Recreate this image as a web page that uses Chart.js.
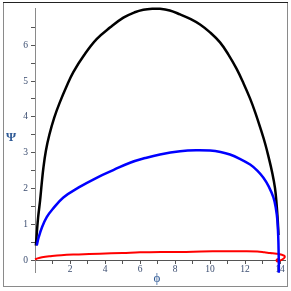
<!DOCTYPE html>
<html lang="en">
<head>
    <meta charset="UTF-8">
    <title>Psi vs Phi</title>
    <style>
        html, body { margin: 0; padding: 0; background: #fff; }
        #box { width: 291px; height: 291px; }
    </style>
</head>
<body>
    <div id="box">
        <canvas id="myChart" width="291" height="291"></canvas>
    </div>

    <script src="https://cdn.jsdelivr.net/npm/chart.js"></script>

    <script>
        // curve data
        const blackX = [0.05, 0.1, 0.18, 0.29, 0.38, 0.48, 0.62, 0.82, 1.1, 1.43, 1.8, 2.19, 2.8, 3.52, 4.3, 5.05, 5.7, 6.19, 6.7, 7.14, 7.7, 8.29, 8.9, 9.43, 10.0, 10.57, 11.05, 11.52, 11.9, 12.29, 12.6, 12.9, 13.15, 13.35, 13.55, 13.71, 13.8, 13.87, 13.91];
        const blackY = [0.41, 0.74, 1.2, 1.66, 2.12, 2.58, 3.05, 3.5, 3.98, 4.42, 4.85, 5.25, 5.72, 6.17, 6.5, 6.77, 6.92, 6.99, 7.02, 7.02, 6.97, 6.86, 6.73, 6.58, 6.36, 6.08, 5.74, 5.34, 4.95, 4.51, 4.1, 3.65, 3.25, 2.87, 2.45, 2.02, 1.58, 1.1, 0.7];

        const blueX = [0.1, 0.2, 0.4, 0.67, 1.0, 1.62, 2.5, 3.52, 4.5, 5.43, 6.3, 7.14, 8.29, 9.2, 10.0, 10.6, 11.14, 11.7, 12.29, 12.7, 13.05, 13.35, 13.62, 13.76, 13.85, 13.9, 13.92, 13.93, 13.93];
        const blueY = [0.41, 0.62, 0.92, 1.2, 1.42, 1.75, 2.03, 2.3, 2.52, 2.72, 2.85, 2.95, 3.04, 3.07, 3.06, 3.02, 2.95, 2.83, 2.67, 2.5, 2.3, 2.06, 1.75, 1.45, 1.1, 0.6, 0.18, -0.1, -0.35];

        const redX = [0.0, 0.15, 0.4, 0.86, 1.5, 2.5, 3.7, 5.0, 6.0, 7.2, 8.29, 9.5, 10.8, 12.1, 12.7, 13.1, 13.43, 13.8, 14.1, 14.27, 14.22, 14.05, 13.85, 13.8, 13.9];
        const redY = [0.02, 0.05, 0.08, 0.11, 0.14, 0.16, 0.18, 0.2, 0.22, 0.23, 0.23, 0.24, 0.25, 0.25, 0.24, 0.22, 0.2, 0.18, 0.15, 0.11, 0.05, 0.0, -0.04, 0.0, 0.04];

        // tick positions and which ones carry a label
        const xTicks = [0, 1, 2, 3, 4, 5, 6, 7, 8, 9, 10, 11, 12, 13, 14];
        const xTickLabels = [2, 4, 6, 8, 10, 12, 14];
        const yTicks = [0, 0.5, 1, 1.5, 2, 2.5, 3, 3.5, 4, 4.5, 5, 5.5, 6, 6.5];
        const yTickLabels = [0, 1, 2, 3, 4, 5, 6];
        const xTitle = 'ϕ';
        const yTitle = 'Ψ';

        function toPoints(xs, ys) {
            return xs.map((x, i) => ({ x: x, y: ys[i] }));
        }

        const labelColor = '#3b4d70';
        const serif = "'Liberation Serif', 'DejaVu Serif', serif";

        // frame + axis titles
        const extras = {
            id: 'extras',
            afterDraw(chart) {
                const c = chart.ctx;
                c.save();
                c.lineWidth = 1;
                c.strokeStyle = '#8a8a8a';
                c.strokeRect(3.5, 2.5, 284, 284);
                c.strokeStyle = '#222';
                c.beginPath();
                c.moveTo(3, 2.5);
                c.lineTo(288, 2.5);
                c.stroke();

                c.fillStyle = '#2f5a96';
                c.font = "bold 13px " + serif;
                c.textAlign = 'center';
                c.textBaseline = 'middle';
                c.fillText(yTitle, 11, 138);
                c.font = "13px " + serif;
                c.fillText(xTitle, 157, 279);
                c.restore();
            }
        };

        const ctx = document.getElementById('myChart');

        const lineOpts = { showLine: true, pointRadius: 0, tension: 0.4, clip: false };

        new Chart(ctx, {
            type: 'scatter',
            data: {
                datasets: [
                    Object.assign({ label: 'blue', data: toPoints(blueX, blueY), borderColor: '#0000ff', borderWidth: 2.5 }, lineOpts),
                    Object.assign({ label: 'black', data: toPoints(blackX, blackY), borderColor: '#000000', borderWidth: 2.5 }, lineOpts),
                    Object.assign({ label: 'red', data: toPoints(redX, redY), borderColor: '#ff0000', borderWidth: 2 }, lineOpts)
                ]
            },
            options: {
                responsive: false,
                animation: false,
                layout: {
                    padding: { left: 0, top: 6, right: 5.7, bottom: 18.3 }
                },
                plugins: {
                    legend: { display: false },
                    tooltip: { enabled: false }
                },
                scales: {
                    x: {
                        type: 'linear',
                        position: { y: 0 },
                        min: 0,
                        max: 14.3,
                        grid: { drawOnChartArea: false, tickLength: 3, color: '#555' },
                        border: { color: '#555', width: 1 },
                        ticks: {
                            autoSkip: false,
                            maxRotation: 0,
                            padding: 1,
                            color: labelColor,
                            font: { family: serif, size: 9.5 },
                            callback: (v) => xTickLabels.includes(v) ? String(v) : ''
                        },
                        afterBuildTicks: (s) => {
                            s.ticks = xTicks.map(v => ({ value: v }));
                        }
                    },
                    y: {
                        type: 'linear',
                        min: -0.35,
                        max: 7.02,
                        grid: { drawOnChartArea: false, tickLength: 4, color: '#555' },
                        border: { color: '#8a8a8a', width: 1 },
                        ticks: {
                            autoSkip: false,
                            padding: 3,
                            color: labelColor,
                            font: { family: serif, size: 9.5 },
                            callback: (v) => yTickLabels.includes(v) ? String(v) : ''
                        },
                        afterBuildTicks: (s) => {
                            s.ticks = yTicks.map(v => ({ value: v }));
                        },
                        afterFit: (s) => { s.width = 35; }
                    }
                }
            },
            plugins: [extras]
        });
    </script>
</body>
</html>
